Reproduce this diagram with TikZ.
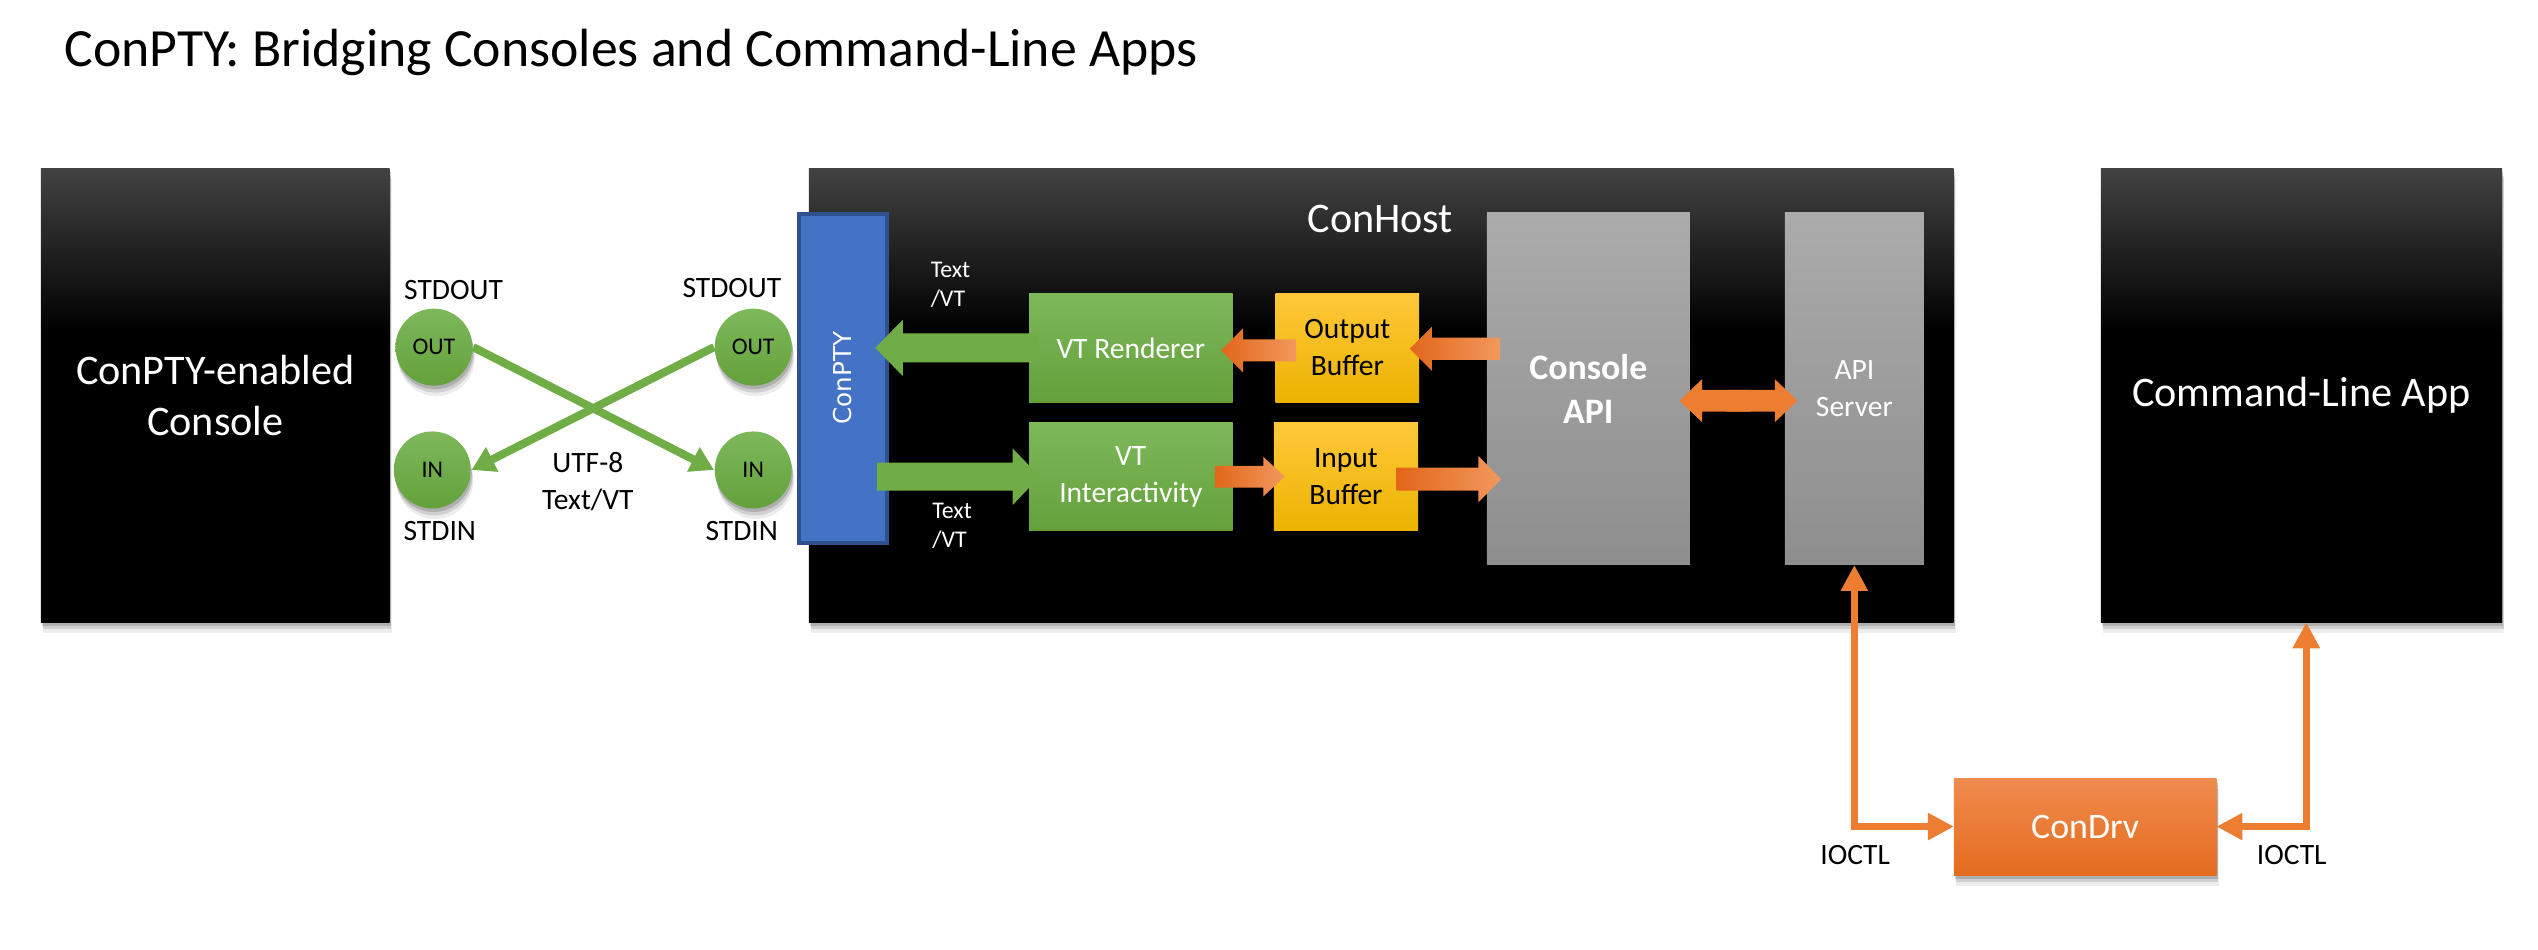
\documentclass[tikz,border=0pt]{standalone}
\usepackage{fontspec}
\setmainfont{Carlito}
\newfontfamily\barfont{DejaVu Sans}
\usetikzlibrary{arrows.meta,calc,shadows}

\definecolor{bktop}{HTML}{424242}
\definecolor{gtop}{HTML}{7DB85B}
\definecolor{gbot}{HTML}{64A13B}
\definecolor{gmid}{HTML}{70AD47}
\definecolor{ytop}{HTML}{FFC83A}
\definecolor{ybot}{HTML}{EBB300}
\definecolor{grtop}{HTML}{ABABAB}
\definecolor{grbot}{HTML}{8E8E8E}
\definecolor{otop}{HTML}{F08B4F}
\definecolor{obot}{HTML}{E46C1E}
\definecolor{odark}{HTML}{E2661A}
\definecolor{olight}{HTML}{F2985E}
\definecolor{oarr}{HTML}{ED7D31}
\definecolor{cblue}{HTML}{4472C4}
\definecolor{cbluedark}{HTML}{2F528F}

\pgfdeclareverticalshading{blackgrad}{100bp}{color(0bp)=(black); color(25bp)=(black); color(57bp)=(black); color(75bp)=(bktop); color(100bp)=(bktop)}

% block arrow: style, tail, tip, half shaft, half head, head length
\newcommand\blockarr[6]{%
  \path[#1] ($(#2)!#4!90:(#3)$)
    -- ($($(#3)!#6!(#2)$)!#4!-90:(#2)$)
    -- ($($(#3)!#6!(#2)$)!#5!-90:(#2)$)
    -- (#3)
    -- ($($(#3)!#6!(#2)$)!#5!90:(#2)$)
    -- ($($(#3)!#6!(#2)$)!#4!90:(#2)$)
    -- ($(#2)!#4!-90:(#3)$) -- cycle;}

\begin{document}
\begin{tikzpicture}[x=0.016374cm, y=-0.016374cm,
  sz/.style 2 args={minimum width=#1*0.46589pt, minimum height=#2*0.46589pt},
  shad/.style={drop shadow={shadow xshift=0.3pt, shadow yshift=-1.0pt, opacity=0.16, fill=black},
               drop shadow={shadow xshift=0.5pt, shadow yshift=-2.0pt, opacity=0.12, fill=black},
               drop shadow={shadow xshift=0.7pt, shadow yshift=-3.0pt, opacity=0.07, fill=black}},
  fbig/.style={font=\fontsize{12}{14.4}\selectfont},
  fmid/.style={font=\fontsize{8.4}{10.5}\selectfont},
  fsmall/.style={font=\fontsize{6.8}{8.2}\selectfont},
  bigbox/.style={inner sep=0, outer sep=0, shading=blackgrad, shad, text=white, align=center, fbig},
  gbox/.style={inner sep=0, outer sep=0, top color=gtop, bottom color=gbot, shad, text=white, align=center, fmid},
  ybox/.style={inner sep=0, outer sep=0, top color=ytop, bottom color=ybot, shad, text=black, align=center, fmid},
  graybox/.style={inner sep=0, outer sep=0, top color=grtop, bottom color=grbot, text=white, align=center},
  circ/.style={circle, inner sep=0, minimum size=21.9pt, top color=gtop, bottom color=gbot, shad, text=black, fsmall},
  lab/.style={inner sep=0, text depth=0pt, fmid},
  gfill/.style={fill=gmid},
  ofill/.style={left color=odark, right color=olight},
  osolid/.style={fill=oarr},
  gthin/.style={draw=gmid, line width=2.3pt, -{Triangle[length=6.6pt, width=7.4pt]}},
  othin/.style={draw=oarr, line width=2.1pt, {Triangle[length=7.4pt, width=7.3pt]}-{Triangle[length=7.4pt, width=7.3pt]}}
]
\useasboundingbox (0,0) rectangle (1550,579.6);

% title
\node[anchor=base west, inner sep=0, font=\fontsize{15.3}{18}\selectfont] (title) at (39,40.4) {ConPTY: Bridging Consoles and Command-Line Apps};

% big boxes
\node[bigbox, sz={213}{277}] (console) at (131.5,241.5) {ConPTY-enabled\\Console};
\node[bigbox, sz={699}{277}] (conhost) at (843.5,241.5) {};
\node[bigbox, sz={245}{277}] (cmd) at (1405.5,241.5) {Command-Line App};
\node[inner sep=0, text=white, fbig] (conhostlbl) at (843,133.5) {ConHost};

% ConPTY bar
\node[inner sep=0, outer sep=0, fill=cblue, draw=cbluedark, line width=1.1pt, sz={53.5}{201}] (conpty) at (514.75,231) {};
\node[rotate=90, inner sep=0, text=white, font=\barfont\fontsize{7}{8}\selectfont] (conptylbl) at (conpty.center) {ConPTY};

% inner boxes
\node[gbox, sz={124.2}{66.3}] (vtr) at (690.6,212.45) {VT Renderer};
\node[ybox, sz={87.7}{66.3}] (ob) at (822.85,212.45) {Output\\Buffer};
\node[gbox, sz={124.2}{66.2}] (vti) at (690.6,291.1) {VT\\Interactivity};
\node[ybox, sz={88}{66.2}] (ib) at (822,291.1) {Input\\Buffer};
\node[graybox, sz={124}{215}, font=\bfseries\fontsize{10.2}{12.5}\selectfont] (capi) at (970,237.5) {Console\\API};
\node[graybox, sz={85}{215}, font=\fontsize{8.4}{10.6}\selectfont] (apis) at (1132.5,237.5) {API\\Server};

% ConDrv
\node[inner sep=0, outer sep=0, top color=otop, bottom color=obot, shad, text=white, font=\fontsize{10.2}{12}\selectfont, sz={160.3}{59.2}] (condrv) at (1273.45,504.8) {ConDrv};

% circles
\node[circ] (lout) at (265,212) {OUT};
\node[circ] (lin) at (264,287) {IN};
\node[circ] (rout) at (460,212) {OUT};
\node[circ] (rin) at (460,287) {IN};

% labels
\node[lab] (so1) at (277,177) {STDOUT};
\node[lab] (si1) at (268.6,324) {STDIN};
\node[lab] (so2) at (447,176) {STDOUT};
\node[lab] (si2) at (453,324) {STDIN};
\node[inner sep=0, align=center, fmid] (utf) at (359,294) {UTF-8\\Text/VT};
\node[inner sep=0, align=left, anchor=west, text=white, fsmall] (tv1) at (568,174) {Text\\/VT};
\node[inner sep=0, align=left, anchor=west, text=white, fsmall] (tv2) at (569,321) {Text\\/VT};
\node[lab] (ioctl1) at (1133,522.4) {IOCTL};
\node[lab] (ioctl2) at (1399.6,522.4) {IOCTL};

% crossing arrows
\draw[gthin] (lout.east) -- (rin.west);
\draw[gthin] (rout.west) -- (lin.east);

% block arrow end points
\coordinate (g1s) at ($(vtr.west)+(6,0)$);
\coordinate (g1e) at ($(conpty.east |- vtr.west)+(-7,0)$);
\coordinate (g2s) at ($(conpty.east |- vti.west)+(-6,0)$);
\coordinate (g2e) at ($(vti.west)+(6.5,0)$);
\coordinate (o1s) at ($(ob.west)+(12.5,1.5)$);
\coordinate (o1e) at ($(vtr.east)+(-7,1.5)$);
\coordinate (o2s) at ($(capi.west |- ob.east)+(8,0.5)$);
\coordinate (o2e) at ($(ob.east)+(-5.7,0.5)$);
\coordinate (o3s) at ($(vti.east)+(-10.7,0)$);
\coordinate (o3e) at ($(ib.west)+(6.5,0)$);
\coordinate (o4s) at ($(ib.east)+(-13,1.5)$);
\coordinate (o4e) at ($(capi.west |- ib.east)+(8.8,1.5)$);
\coordinate (o5a) at ($(capi.east)+(-6.3,7.2)$);
\coordinate (o5b) at ($(apis.west)+(7.7,7.2)$);
\coordinate (o5ma) at ($(o5a)!0.6!(o5b)$);
\coordinate (o5mb) at ($(o5a)!0.4!(o5b)$);

% block arrows
\blockarr{gfill}{g1s}{g1e}{4.1pt}{8.05pt}{7.9pt}
\blockarr{gfill}{g2s}{g2e}{4.0pt}{8.05pt}{7.7pt}
\blockarr{ofill}{o1s}{o1e}{3.15pt}{6.3pt}{6.3pt}
\blockarr{ofill}{o2s}{o2e}{3.15pt}{6.3pt}{6.3pt}
\blockarr{ofill}{o3s}{o3e}{3.1pt}{5.6pt}{6pt}
\blockarr{ofill}{o4s}{o4e}{3.3pt}{6.6pt}{6.5pt}
\blockarr{osolid}{o5ma}{o5a}{3.1pt}{6.1pt}{6.4pt}
\blockarr{osolid}{o5mb}{o5b}{3.1pt}{6.1pt}{6.4pt}

% IOCTL connectors
\draw[othin] (condrv.west) -| (apis.south);
\draw[othin] (condrv.east) -| ($(cmd.south)+(3,0)$);
\end{tikzpicture}
\end{document}
